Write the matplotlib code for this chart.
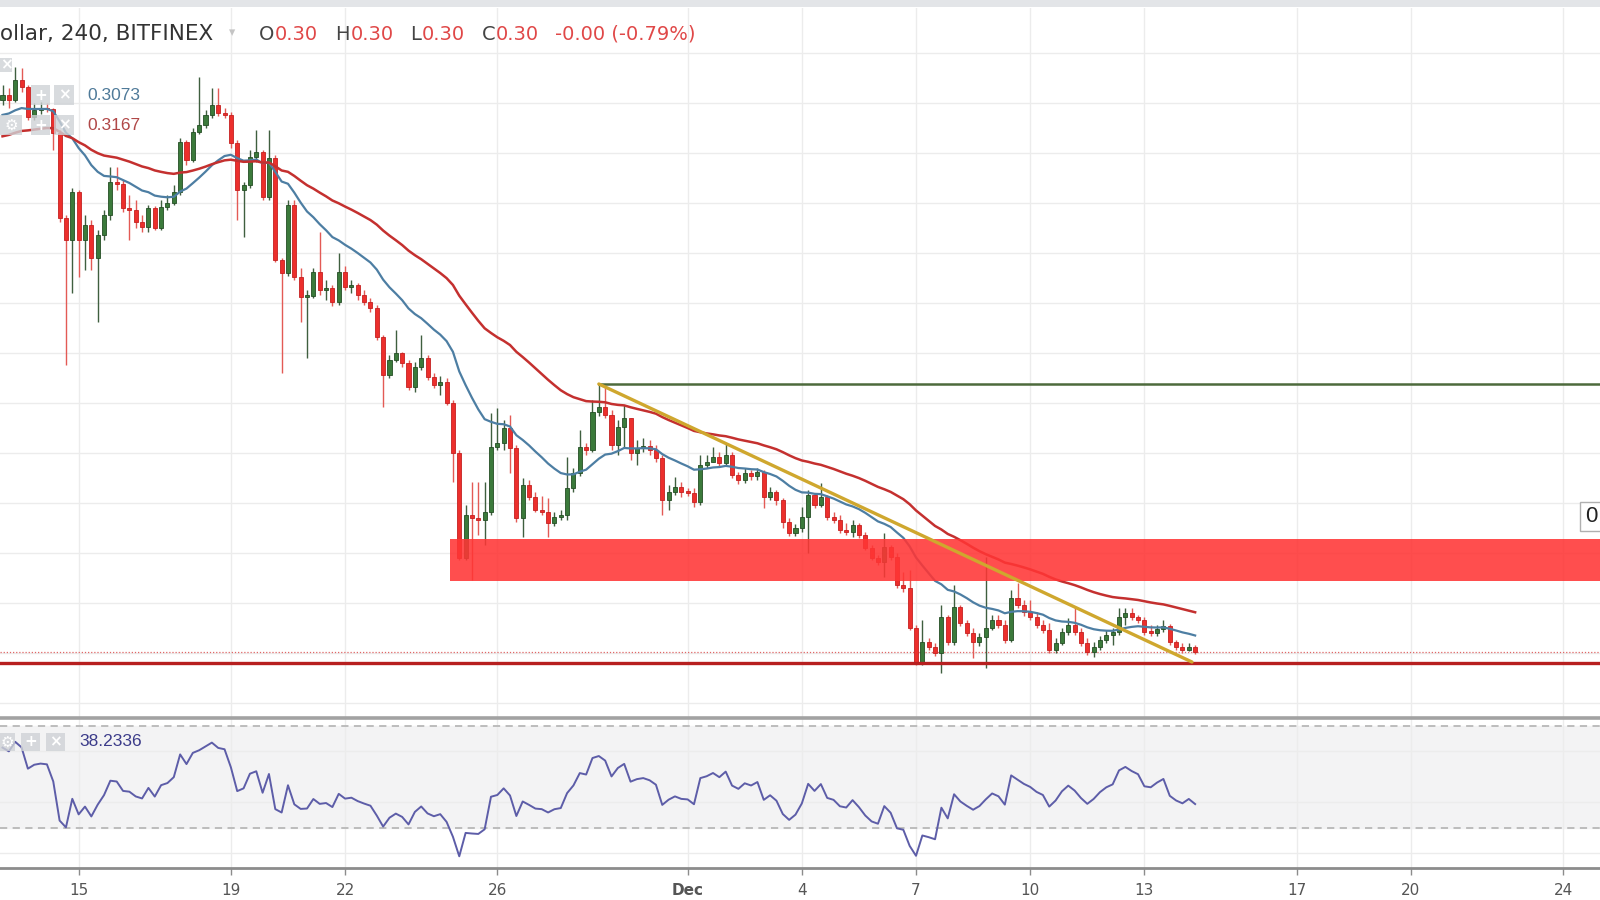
import numpy as np
import matplotlib
matplotlib.use('Agg')
import matplotlib.pyplot as plt
import matplotlib.dates as mdates
from matplotlib.patches import Rectangle

# ------------------------
# Dados: velas de 4h (BITFINEX), a partir de 13/11 00:00
first_open = 0.5212
close = [0.5232, 0.5212, 0.5292, 0.5264, 0.5144, 0.5172, 0.5180, 0.5176, 0.5080, 0.4740,
         0.4652, 0.4844, 0.4652, 0.4712, 0.4580, 0.4672, 0.4752, 0.4884, 0.4876, 0.4780,
         0.4772, 0.4724, 0.4704, 0.4780, 0.4700, 0.4784, 0.4800, 0.4844, 0.5044, 0.4972,
         0.5084, 0.5112, 0.5152, 0.5192, 0.5160, 0.5152, 0.5040, 0.4852, 0.4872, 0.4984,
         0.5004, 0.4824, 0.4980, 0.4572, 0.4520, 0.4792, 0.4504, 0.4424, 0.4428, 0.4524,
         0.4452, 0.4460, 0.4404, 0.4524, 0.4464, 0.4472, 0.4432, 0.4404, 0.4380, 0.4264,
         0.4112, 0.4172, 0.4200, 0.4160, 0.4064, 0.4144, 0.4180, 0.4104, 0.4072, 0.4084,
         0.4000, 0.3800, 0.3380, 0.3552, 0.3540, 0.3532, 0.3564, 0.3824, 0.3840, 0.3900,
         0.3820, 0.3540, 0.3672, 0.3624, 0.3572, 0.3564, 0.3520, 0.3544, 0.3552, 0.3660,
         0.3720, 0.3824, 0.3812, 0.3964, 0.3984, 0.3952, 0.3832, 0.3904, 0.3940, 0.3800,
         0.3820, 0.3828, 0.3812, 0.3780, 0.3612, 0.3644, 0.3664, 0.3644, 0.3640, 0.3604,
         0.3752, 0.3764, 0.3784, 0.3760, 0.3792, 0.3712, 0.3692, 0.3720, 0.3708, 0.3724,
         0.3624, 0.3644, 0.3612, 0.3524, 0.3480, 0.3500, 0.3544, 0.3632, 0.3592, 0.3624,
         0.3544, 0.3532, 0.3492, 0.3484, 0.3512, 0.3472, 0.3420, 0.3380, 0.3364, 0.3424,
         0.3384, 0.3272, 0.3260, 0.3100, 0.2960, 0.3044, 0.3024, 0.3000, 0.3144, 0.3044,
         0.3184, 0.3120, 0.3080, 0.3044, 0.3064, 0.3100, 0.3132, 0.3112, 0.3052, 0.3220,
         0.3192, 0.3164, 0.3144, 0.3112, 0.3092, 0.3012, 0.3040, 0.3084, 0.3112, 0.3084,
         0.3040, 0.3004, 0.3024, 0.3052, 0.3072, 0.3084, 0.3144, 0.3160, 0.3144, 0.3132,
         0.3084, 0.3080, 0.3096, 0.3108, 0.3044, 0.3024, 0.3012, 0.3024, 0.3004]
high = [0.5272, 0.5260, 0.5344, 0.5340, 0.5272, 0.5200, 0.5204, 0.5200, 0.5180, 0.5092,
        0.4752, 0.4860, 0.4852, 0.4752, 0.4732, 0.4692, 0.4772, 0.4944, 0.4944, 0.4892,
        0.4832, 0.4812, 0.4752, 0.4792, 0.4788, 0.4812, 0.4832, 0.4872, 0.5060, 0.5052,
        0.5100, 0.5304, 0.5172, 0.5260, 0.5260, 0.5180, 0.5164, 0.5052, 0.4884, 0.5012,
        0.5092, 0.5012, 0.5092, 0.4992, 0.4580, 0.4812, 0.4812, 0.4540, 0.4452, 0.4540,
        0.4684, 0.4492, 0.4472, 0.4600, 0.4548, 0.4492, 0.4480, 0.4452, 0.4420, 0.4392,
        0.4272, 0.4192, 0.4292, 0.4204, 0.4172, 0.4164, 0.4272, 0.4192, 0.4120, 0.4108,
        0.4100, 0.4012, 0.3812, 0.3592, 0.3684, 0.3684, 0.3684, 0.3960, 0.3980, 0.3932,
        0.3952, 0.3832, 0.3700, 0.3692, 0.3644, 0.3628, 0.3620, 0.3564, 0.3572, 0.3784,
        0.3740, 0.3892, 0.3840, 0.4012, 0.4076, 0.4072, 0.3972, 0.3932, 0.3992, 0.3912,
        0.3852, 0.3860, 0.3852, 0.3832, 0.3792, 0.3672, 0.3704, 0.3684, 0.3660, 0.3660,
        0.3792, 0.3792, 0.3824, 0.3804, 0.3840, 0.3804, 0.3724, 0.3740, 0.3732, 0.3740,
        0.3732, 0.3664, 0.3652, 0.3620, 0.3540, 0.3516, 0.3584, 0.3652, 0.3632, 0.3680,
        0.3632, 0.3564, 0.3552, 0.3520, 0.3532, 0.3520, 0.3484, 0.3432, 0.3392, 0.3480,
        0.3432, 0.3400, 0.3324, 0.3332, 0.3112, 0.3132, 0.3060, 0.3040, 0.3192, 0.3152,
        0.3272, 0.3192, 0.3132, 0.3100, 0.3080, 0.3384, 0.3152, 0.3152, 0.3132, 0.3252,
        0.3280, 0.3212, 0.3212, 0.3164, 0.3132, 0.3120, 0.3060, 0.3100, 0.3140, 0.3184,
        0.3100, 0.3060, 0.3044, 0.3068, 0.3092, 0.3100, 0.3180, 0.3180, 0.3180, 0.3152,
        0.3144, 0.3112, 0.3112, 0.3132, 0.3116, 0.3052, 0.3040, 0.3040, 0.3032]
low = [0.5192, 0.5180, 0.5204, 0.5244, 0.5132, 0.5132, 0.5156, 0.5164, 0.5012, 0.4724,
       0.4152, 0.4440, 0.4504, 0.4532, 0.4532, 0.4324, 0.4652, 0.4732, 0.4852, 0.4764,
       0.4652, 0.4700, 0.4684, 0.4684, 0.4692, 0.4692, 0.4772, 0.4792, 0.4832, 0.4952,
       0.4964, 0.5076, 0.5100, 0.5140, 0.5148, 0.5140, 0.5020, 0.4732, 0.4664, 0.4860,
       0.4964, 0.4812, 0.4812, 0.4564, 0.4120, 0.4508, 0.4492, 0.4324, 0.4180, 0.4420,
       0.4432, 0.4412, 0.4388, 0.4392, 0.4452, 0.4440, 0.4412, 0.4392, 0.4364, 0.4252,
       0.3984, 0.4100, 0.4164, 0.4144, 0.4052, 0.4044, 0.4132, 0.4092, 0.4060, 0.4032,
       0.3992, 0.3684, 0.3372, 0.3372, 0.3292, 0.3472, 0.3432, 0.3552, 0.3812, 0.3812,
       0.3720, 0.3524, 0.3464, 0.3612, 0.3564, 0.3552, 0.3464, 0.3508, 0.3532, 0.3532,
       0.3644, 0.3708, 0.3792, 0.3804, 0.3948, 0.3940, 0.3812, 0.3792, 0.3820, 0.3772,
       0.3752, 0.3804, 0.3792, 0.3764, 0.3552, 0.3572, 0.3632, 0.3624, 0.3628, 0.3584,
       0.3592, 0.3740, 0.3764, 0.3748, 0.3752, 0.3700, 0.3676, 0.3680, 0.3692, 0.3692,
       0.3580, 0.3612, 0.3592, 0.3500, 0.3468, 0.3468, 0.3484, 0.3400, 0.3580, 0.3584,
       0.3532, 0.3520, 0.3480, 0.3472, 0.3464, 0.3460, 0.3412, 0.3372, 0.3352, 0.3304,
       0.3372, 0.3260, 0.3244, 0.3092, 0.2952, 0.2952, 0.3012, 0.2988, 0.2920, 0.3032,
       0.3032, 0.3108, 0.3068, 0.2980, 0.3028, 0.2940, 0.3092, 0.3100, 0.3040, 0.3044,
       0.3180, 0.3148, 0.3132, 0.3100, 0.3080, 0.3000, 0.3000, 0.3032, 0.3072, 0.3072,
       0.3028, 0.2992, 0.2984, 0.3012, 0.3040, 0.3032, 0.3072, 0.3112, 0.3132, 0.3120,
       0.3072, 0.3068, 0.3068, 0.3084, 0.3032, 0.3012, 0.3000, 0.3008, 0.2996]

# valores da legenda (como na tela)
ema_fast_label = '0.3073'
ema_slow_label = '0.3167'
rsi_label = '38.2336'
ema_fast_seed = 0.5144   # valor das médias antes da primeira vela
ema_slow_seed = 0.5060
rsi_seed_gain = 0.0040
rsi_seed_loss = 0.0026

# desenhos do analista
zone_start = '2018-11-24T18:00'
zone_low, zone_high = 0.3288, 0.3456
support_level = 0.2960
resist_start = '2018-11-28T16:00'
resist_level = 0.4076
trend_start = ('2018-11-28T16:00', 0.4076)
trend_end = ('2018-12-14T06:00', 0.2964)
edge_label = '0'   # etiqueta de preco cortada na borda direita

tick_dates = ['2018-11-15', '2018-11-19', '2018-11-22', '2018-11-26', '2018-12-01', '2018-12-04',
              '2018-12-07', '2018-12-10', '2018-12-13', '2018-12-17', '2018-12-20', '2018-12-24']
tick_labels = ['15', '19', '22', '26', 'Dec', '4', '7', '10', '13', '17', '20', '24']

# ------------------------
c = np.array(close)
h = np.array(high)
l = np.array(low)
o = np.r_[first_open, c[:-1]]
n = len(c)
t0 = mdates.date2num(np.datetime64('2018-11-13T00:00'))
x = t0 + np.arange(n) / 6.0
h = np.maximum(h, np.maximum(o, c))
l = np.minimum(l, np.minimum(o, c))

# medias exponenciais
def ema(vals, period, seed):
    a = 2.0 / (period + 1)
    out = []
    e = seed
    for v in vals:
        e = e + a * (v - e)
        out.append(e)
    return np.array(out)

ema20 = ema(c, 20, ema_fast_seed)
ema50 = ema(c, 50, ema_slow_seed)

# RSI (Wilder, 14)
delta = c - o
ag, al = rsi_seed_gain, rsi_seed_loss
rsi = []
for d in delta:
    ag = (ag * 13 + max(d, 0)) / 14
    al = (al * 13 + max(-d, 0)) / 14
    rsi.append(100 - 100 / (1 + ag / al))
rsi = np.array(rsi)

# ------------------------
fig = plt.figure(figsize=(16, 9), dpi=100)
fig.patch.set_facecolor('white')
ax = fig.add_axes([0, 1 - 718 / 900, 1, 710 / 900])
ax2 = fig.add_axes([0, 1 - 868 / 900, 1, 150 / 900], sharex=ax)

xl = (t0 - 0.066, t0 + 41.97)
grid_col = '#ececec'

# ------------------------
# painel principal
ax.set_xlim(xl)
ax.set_ylim(0.2740, 0.5580)
ax.set_yticks(np.arange(0.28, 0.55, 0.02))
ax.grid(True, color=grid_col, lw=1)
ax.set_axisbelow(True)
for s in ax.spines.values():
    s.set_visible(False)
ax.tick_params(left=False, labelleft=False, bottom=False, labelbottom=False)

up = c >= o
w = 0.64 / 6
body_lo = np.minimum(o, c)
body_h = np.maximum(np.abs(c - o), 0.0006)
ax.vlines(x[up], l[up], h[up], color='#3f5f3f', lw=1, zorder=2)
ax.vlines(x[~up], l[~up], h[~up], color='#e35a55', lw=1, zorder=2)
ax.bar(x[up], body_h[up], bottom=body_lo[up], width=w, color='#3b7a3b', edgecolor='#244d24', lw=0.6, zorder=2)
ax.bar(x[~up], body_h[~up], bottom=body_lo[~up], width=w, color='#ec2f2c', edgecolor='#c42020', lw=0.6, zorder=2)

ax.plot(x, ema20, color='#4d7ea3', lw=1.6, zorder=3)
ax.plot(x, ema50, color='#c4302f', lw=1.8, zorder=3)

# zona vermelha
zs = mdates.date2num(np.datetime64(zone_start))
ax.add_patch(Rectangle((zs, zone_low), xl[1] + 1 - zs, zone_high - zone_low,
                       facecolor='#ff3535', alpha=0.88, edgecolor='none', zorder=4))
# suporte e preço atual
ax.axhline(support_level, color='#b71f1f', lw=2.4, zorder=4)
ax.axhline(c[-1], color='#e06666', lw=0.9, ls=(0, (1, 1.5)), zorder=1)
# resistencia
rs = mdates.date2num(np.datetime64(resist_start))
ax.plot([rs, xl[1] + 1], [resist_level, resist_level], color='#4d6a3c', lw=1.8, zorder=4)
# linha de tendencia
ax.plot([mdates.date2num(np.datetime64(trend_start[0])), mdates.date2num(np.datetime64(trend_end[0]))],
        [trend_start[1], trend_end[1]], color='#cfa72e', lw=2.4, zorder=5, solid_capstyle='round')

# ------------------------
# painel RSI
ax2.set_xlim(xl)
ax2.set_ylim(14.3, 73.1)
ax2.axhspan(30, 70, color='#f3f3f4', zorder=0)
ax2.set_yticks([20, 40, 60])
ax2.grid(True, color=grid_col, lw=1)
ax2.set_axisbelow(True)
for lev in (30, 70):
    ax2.axhline(lev, color='#b8b8b8', lw=1.3, ls=(0, (4, 3)), zorder=1)
ax2.plot(x, rsi, color='#5d5da8', lw=1.4, zorder=3)
for k in ('left', 'right'):
    ax2.spines[k].set_visible(False)
ax2.spines['top'].set_color('#a2a2a2')
ax2.spines['top'].set_linewidth(2.6)
ax2.spines['bottom'].set_color('#8c8c8c')
ax2.spines['bottom'].set_linewidth(2)
ax2.tick_params(left=False, labelleft=False)

tk = mdates.date2num(np.array(tick_dates, dtype='datetime64[m]'))
ax2.set_xticks(tk)
ax2.set_xticklabels(tick_labels)
ax2.tick_params(axis='x', length=5, width=1, color='#8c8c8c', labelsize=11, labelcolor='#555555', pad=6)
ax2.get_xticklabels()[tick_labels.index('Dec')].set_fontweight('bold')

# ------------------------
# cabeçalho e legendas (coordenadas em pixels da figura)
def fx(px):
    return px / 1600.0

def fy(py):
    return 1 - py / 900.0

fig.patches.append(Rectangle((0, fy(7)), 1, 7 / 900, transform=fig.transFigure,
                             facecolor='#e3e5e8', edgecolor='none'))

hdr = dict(fontsize=14, va='center', family=['DejaVu Sans'])
fig.text(fx(0), fy(34), 'ollar, 240, BITFINEX', color='#333333', fontsize=15.5,
         va='center', family=['DejaVu Sans'])
fig.text(fx(229), fy(33), '\u25be', color='#c4c4c4', fontsize=9, va='center')
for px, txt, col in [(259, 'O', '#444444'), (275, '0.30', '#e04848'),
                     (335, 'H', '#444444'), (351, '0.30', '#e04848'),
                     (410, 'L', '#444444'), (422, '0.30', '#e04848'),
                     (482, 'C', '#444444'), (496, '0.30', '#e04848'),
                     (555, '-0.00 (-0.79%)', '#e04848')]:
    fig.text(fx(px), fy(34), txt, color=col, **hdr)

def icon(px, py, wd, ht, glyph):
    fig.patches.append(Rectangle((fx(px), fy(py + ht)), wd / 1600, ht / 900, transform=fig.transFigure,
                                 facecolor='#cfd2d6', alpha=0.8, edgecolor='none', zorder=10))
    fig.text(fx(px + wd / 2), fy(py + ht / 2), glyph, color='white', fontsize=11,
             ha='center', va='center', fontweight='bold', zorder=11)

icon(0, 58, 12, 14, '\u00d7')
icon(31, 85, 19, 20, '+')
icon(54, 85, 20, 20, '\u00d7')
icon(0, 115, 22, 20, '\u2699')
icon(31, 115, 19, 20, '+')
icon(54, 115, 20, 20, '\u00d7')
icon(0, 733, 15, 18, '\u2699')
icon(21, 733, 19, 18, '+')
icon(46, 733, 19, 18, '\u00d7')

lg = dict(fontsize=12.5, va='center', family=['Liberation Sans', 'DejaVu Sans'])
fig.text(fx(87), fy(95), ema_fast_label, color='#4f7a99', **lg)
fig.text(fx(87), fy(126), ema_slow_label, color='#b04848', **lg)
fig.text(fx(79), fy(741), rsi_label, color='#3c3c8a', **lg)

# etiqueta de preco na borda direita (caixa continua fora da figura)
fig.patches.append(Rectangle((fx(1580), fy(531)), 40 / 1600, 29 / 900, transform=fig.transFigure,
                             facecolor='white', edgecolor='#b0b0b0', lw=1, zorder=10))
fig.text(fx(1585), fy(517), edge_label, fontsize=16, va='center', color='#222222',
         family=['Liberation Sans', 'DejaVu Sans'], zorder=11)

fig.savefig('out.png', dpi=100)
